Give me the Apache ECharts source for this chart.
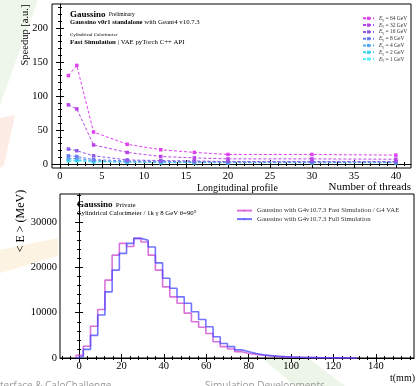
<!DOCTYPE html>
<html><head><meta charset="utf-8">
<script src="https://cdn.jsdelivr.net/npm/echarts@6/dist/echarts.min.js"></script>
<style>html,body{margin:0;padding:0;background:#fff;}#c{width:416px;height:386px;}</style>
</head><body><div id="c"></div>
<script>
// ---------- Top chart data: speedup vs number of threads ----------
const threads = [1, 2, 4, 8, 12, 16, 20, 30, 40];
const energyNames = ['E_γ = 64 GeV', 'E_γ = 32 GeV', 'E_γ = 16 GeV', 'E_γ = 8 GeV', 'E_γ = 4 GeV', 'E_γ = 2 GeV', 'E_γ = 1 GeV'];
const speedup64 = [130, 145, 47, 29, 21, 17, 14, 14, 13];
const speedup32 = [87, 81, 28, 17, 11, 9, 7.5, 7.5, 7];
const speedup16 = [22, 19.5, 12, 6, 5, 4.5, 3.5, 3.5, 3.5];
const speedup8 = [12, 11, 6.5, 4.5, 4, 3.5, 3, 3, 3];
const speedup4 = [8, 8, 5, 3.5, 3, 3, 2.5, 2.5, 2.5];
const speedup2 = [6, 5.5, 4, 3, 2.5, 2.5, 2.2, 2.2, 2.2];
const speedup1 = [4.5, 4.5, 3, 2.5, 2, 2, 1.8, 1.8, 1.8];
const topXTicks = [0, 5, 10, 15, 20, 25, 30, 35, 40];
const topYTicks = [0, 50, 100, 150, 200];

// ---------- Bottom chart data: longitudinal profile histogram ----------
const binEdges = [-1.4, 2.0, 5.4, 8.8, 12.2, 15.6, 19.0, 22.4, 25.8, 29.2, 32.6, 36.0, 39.4, 42.8, 46.2, 49.6,
  53.0, 56.4, 59.8, 63.2, 66.6, 70.0, 73.4, 76.8, 80.2, 83.6, 87.0, 90.4, 93.8, 97.2, 100.6, 104.0, 107.4,
  110.8, 114.2, 117.6, 121.0, 124.4, 127.8, 131.2];
const fastSimE = [600, 2600, 7000, 10700, 17200, 22700, 25300, 24600, 26400, 25600, 22700, 19400, 15700, 13500,
  12100, 9900, 8000, 6800, 5400, 3600, 2500, 2000, 1400, 1000, 800, 600, 450, 350, 250, 200, 150, 100, 80, 60,
  40, 30, 20, 10, 5];
const fullSimE = [400, 1900, 5000, 9500, 14600, 19400, 23100, 25300, 26400, 26000, 24500, 21000, 17600, 15400,
  13500, 12100, 10200, 8500, 6900, 4700, 3200, 2500, 1800, 1400, 1000, 700, 550, 400, 300, 220, 160, 120, 90, 60,
  40, 30, 20, 10, 5];
const histNames = ['Gaussino with G4v10.7.3 Fast Simulation / G4 VAE', 'Gaussino with G4v10.7.3 Full Simulation'];
const botXTicks = [0, 20, 40, 60, 80, 100, 120, 140];
const botYTicks = [0, 10000, 20000, 30000];

// ---------- styling ----------
const SERIF = 'Liberation Serif';
const topColors = ['#e040f0', '#b844e8', '#8f5ae8', '#6c7ef0', '#56a8f0', '#3cd0f0', '#5ef0f8'];
const histColors = ['#cc44cc', '#4646ff'];

function steps(a, b, s) { const r = []; for (let v = a; v <= b + 1e-9; v += s) r.push(+v.toFixed(6)); return r; }

const chart = echarts.init(document.getElementById('c'), null, { renderer: 'canvas', width: 416, height: 386 });

function mkAxis(grid, pos, min, max, ticks, len, withLabel, fs, margin) {
  return {
    type: 'value', gridIndex: grid, position: pos, min: min, max: max,
    axisLine: { show: withLabel, lineStyle: { color: '#000', width: 1 } },
    axisTick: { show: true, inside: true, length: len, customValues: ticks, lineStyle: { color: '#000', width: 1 } },
    axisLabel: withLabel ? { show: true, customValues: ticks, fontFamily: SERIF, fontSize: fs, color: '#000', margin: margin,
      formatter: function (v) { return String(v); } } : { show: false },
    splitLine: { show: false }
  };
}

const topXMinor = steps(0, 41, 1);
const topYMinor = steps(0, 230, 10);
const botXMinor = steps(-8, 156, 4);
const botYMinor = steps(0, 36000, 2000);

const xAxes = [
  mkAxis(0, 'bottom', -0.95, 41.8, topXTicks, 4, true, 10.5, 3),
  mkAxis(0, 'bottom', -0.95, 41.8, topXMinor, 2, false),
  mkAxis(0, 'top', -0.95, 41.8, topXTicks, 4, false),
  mkAxis(0, 'top', -0.95, 41.8, topXMinor, 2, false),
  mkAxis(1, 'bottom', -9, 158, botXTicks, 4, true, 10.5, 3),
  mkAxis(1, 'bottom', -9, 158, botXMinor, 2, false),
  mkAxis(1, 'top', -9, 158, botXTicks, 4, false),
  mkAxis(1, 'top', -9, 158, botXMinor, 2, false)
];
const yAxes = [
  mkAxis(0, 'left', -5.9, 235.3, topYTicks, 4, true, 10.5, 4),
  mkAxis(0, 'left', -5.9, 235.3, topYMinor, 2, false),
  mkAxis(0, 'right', -5.9, 235.3, topYTicks, 4, false),
  mkAxis(0, 'right', -5.9, 235.3, topYMinor, 2, false),
  mkAxis(1, 'left', 0, 36200, botYTicks, 4, true, 10.5, 3),
  mkAxis(1, 'left', 0, 36200, botYMinor, 2, false),
  mkAxis(1, 'right', 0, 36200, botYTicks, 4, false),
  mkAxis(1, 'right', 0, 36200, botYMinor, 2, false)
];

const topValues = [speedup64, speedup32, speedup16, speedup8, speedup4, speedup2, speedup1];
const series = [];
topValues.forEach((vals, i) => {
  series.push({
    name: energyNames[i], type: 'line', xAxisIndex: 0, yAxisIndex: 0,
    data: threads.map((t, j) => [t, vals[j]]),
    symbol: 'rect', symbolSize: 3.5, color: topColors[i],
    lineStyle: { type: [3, 2], width: 1, color: topColors[i] },
    itemStyle: { color: topColors[i] }, z: 10 - i
  });
});
function histData(vals) {
  const d = [[binEdges[0], 0]];
  vals.forEach((v, i) => d.push([binEdges[i], v]));
  d.push([binEdges[vals.length], vals[vals.length - 1]]);
  d.push([binEdges[vals.length], 0]);
  return d;
}
[fastSimE, fullSimE].forEach((vals, i) => {
  series.push({
    name: histNames[i], type: 'line', step: 'end', xAxisIndex: 4, yAxisIndex: 4,
    data: histData(vals), symbol: 'none', color: histColors[i],
    lineStyle: { width: 1.6, color: histColors[i], opacity: 0.75 }
  });
});

const option = {
  animation: false,
  backgroundColor: '#fff',
  grid: [
    { left: 52, top: 4, width: 359, height: 164, show: true, backgroundColor: '#fff', borderColor: '#000', borderWidth: 1 },
    { left: 60, top: 194, width: 354, height: 164, show: true, backgroundColor: '#fff', borderColor: '#000', borderWidth: 1 }
  ],
  xAxis: xAxes,
  yAxis: yAxes,
  legend: [
    {
      data: energyNames, orient: 'vertical', left: 357, top: 10, itemWidth: 11, itemHeight: 4, itemGap: 0.2,
      textStyle: { fontFamily: SERIF, fontSize: 5.5, lineHeight: 6.6, color: '#333',
        rich: { e: { fontFamily: SERIF, fontStyle: 'italic', fontSize: 5.5, color: '#333' },
                s: { fontFamily: SERIF, fontSize: 4, color: '#333', verticalAlign: 'bottom', lineHeight: 5 },
                t: { fontFamily: SERIF, fontSize: 5.5, color: '#333' } } },
      formatter: function (n) { const m = n.split(' = '); return '{e|E}{s|γ}{t| = ' + m[1] + '}'; }
    },
    {
      data: histNames, orient: 'vertical', left: 231, top: 202, itemWidth: 15, itemHeight: 2, itemGap: 1.3,
      textStyle: { fontFamily: SERIF, fontSize: 6.8, lineHeight: 7.2, color: '#333' }
    }
  ],
  graphic: [
    // faint slide background shapes
    { type: 'polygon', z: -10, shape: { points: [[0, 0], [38, 0], [0, 105]] }, style: { fill: '#eef6ea' } },
    { type: 'polygon', z: -10, shape: { points: [[0, 118], [15, 115], [4, 165], [0, 168]] }, style: { fill: '#fdebe6' } },
    { type: 'polygon', z: -10, shape: { points: [[0, 250], [58, 238], [58, 256], [0, 273]] }, style: { fill: '#fdf3e2' } },
    { type: 'polygon', z: -10, shape: { points: [[262, 358], [300, 352], [345, 386], [295, 386]] }, style: { fill: '#edf5e8' } },
    // slide footer text
    { type: 'text', z: 100, x: 0, y: 381, style: { text: 'terface & CaloChallenge', fontFamily: 'Open Sans', fontSize: 10, fill: '#9a9a9a', textVerticalAlign: 'top' } },
    { type: 'text', z: 100, x: 205, y: 381, style: { text: 'Simulation Developments', fontFamily: 'Open Sans', fontSize: 10, fill: '#9a9a9a', textVerticalAlign: 'top' } },
    // axis titles
    { type: 'text', z: 100, x: 25, y: 35, rotation: Math.PI / 2, style: { text: 'Speedup [a.u.]', fontFamily: SERIF, fontSize: 10.5, fill: '#000', textAlign: 'center', textVerticalAlign: 'middle' } },
    { type: 'text', z: 100, x: 411, y: 187.5, style: { text: 'Number of threads', fontFamily: SERIF, fontSize: 11, fill: '#000', textAlign: 'right', textVerticalAlign: 'middle' } },
    { type: 'text', z: 100, x: 197, y: 188, style: { text: 'Longitudinal profile', fontFamily: SERIF, fontSize: 10, fill: '#000', textAlign: 'left', textVerticalAlign: 'middle' } },
    { type: 'text', z: 100, x: 21, y: 221, rotation: Math.PI / 2, style: { text: '< E > (MeV)', fontFamily: SERIF, fontSize: 12, fill: '#000', textAlign: 'center', textVerticalAlign: 'middle' } },
    { type: 'text', z: 100, x: 415, y: 378, style: { text: 't(mm)', fontFamily: SERIF, fontSize: 10, fill: '#000', textAlign: 'right', textVerticalAlign: 'middle' } },
    // top annotations
    { type: 'text', z: 100, x: 70, y: 15, style: { text: '{b|Gaussino} {n|Preliminary}', textVerticalAlign: 'middle',
      rich: { b: { fontFamily: SERIF, fontWeight: 'bold', fontSize: 9, fill: '#000' }, n: { fontFamily: SERIF, fontSize: 5.5, fill: '#000' } } } },
    { type: 'text', z: 100, x: 70, y: 22, style: { text: '{b|Gaussino v0r1 standalone}{n| with Geant4 v10.7.3}', textVerticalAlign: 'middle',
      rich: { b: { fontFamily: SERIF, fontWeight: 'bold', fontSize: 6.6, fill: '#000' }, n: { fontFamily: SERIF, fontSize: 6.8, fill: '#000' } } } },
    { type: 'text', z: 100, x: 70, y: 35, style: { text: 'Cylindrical Calorimeter', fontFamily: SERIF, fontSize: 5, fill: '#000', textVerticalAlign: 'middle' } },
    { type: 'text', z: 100, x: 70, y: 42, style: { text: '{b|Fast Simulation}{n| | VAE pyTorch C++ API}', textVerticalAlign: 'middle',
      rich: { b: { fontFamily: SERIF, fontWeight: 'bold', fontSize: 6.8, fill: '#000' }, n: { fontFamily: SERIF, fontSize: 6.8, fill: '#000' } } } },
    // bottom annotations
    { type: 'text', z: 100, x: 77, y: 205, style: { text: '{b|Gaussino} {n|Private}', textVerticalAlign: 'middle',
      rich: { b: { fontFamily: SERIF, fontWeight: 'bold', fontSize: 9, fill: '#000' }, n: { fontFamily: SERIF, fontSize: 7, fill: '#000' } } } },
    { type: 'text', z: 100, x: 77, y: 213, style: { text: 'Cylindrical Calorimeter / 1k γ 8 GeV θ=90°', fontFamily: SERIF, fontSize: 6.8, fill: '#000', textVerticalAlign: 'middle' } }
  ],
  series: series
};
chart.setOption(option);
</script>
</body></html>
